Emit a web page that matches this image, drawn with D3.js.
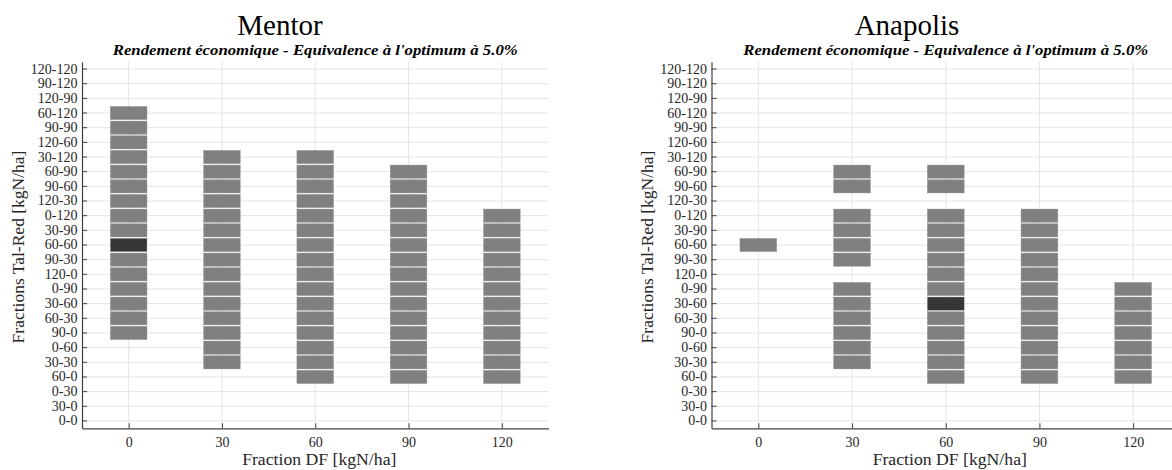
<!DOCTYPE html>
<html><head><meta charset="utf-8">
<script src="https://cdn.jsdelivr.net/npm/d3@7"></script>
<style>
body{margin:0;background:#fff}
svg{display:block}
text{font-family:"Liberation Serif","Times New Roman",serif}
</style>
</head><body><svg id="c" width="1172" height="470" font-family="Liberation Serif, Times New Roman, serif"></svg>
<script>
// Y categories (Tal-Red fractions), bottom to top
const categories = ["0-0","30-0","0-30","60-0","30-30","0-60","90-0","60-30","30-60","0-90","120-0","90-30","60-60","30-90","0-120","120-30","90-60","60-90","30-120","120-60","90-90","60-120","120-90","90-120","120-120"];
// X ticks (Fraction DF)
const dfTicks = [0,30,60,90,120];

// Cells that are equivalent to the optimum, per DF column (same order as dfTicks)
const mentorCells = [
  ["90-0","60-30","30-60","0-90","120-0","90-30","60-60","30-90","0-120","120-30","90-60","60-90","30-120","120-60","90-90","60-120"],
  ["30-30","0-60","90-0","60-30","30-60","0-90","120-0","90-30","60-60","30-90","0-120","120-30","90-60","60-90","30-120"],
  ["60-0","30-30","0-60","90-0","60-30","30-60","0-90","120-0","90-30","60-60","30-90","0-120","120-30","90-60","60-90","30-120"],
  ["60-0","30-30","0-60","90-0","60-30","30-60","0-90","120-0","90-30","60-60","30-90","0-120","120-30","90-60","60-90"],
  ["60-0","30-30","0-60","90-0","60-30","30-60","0-90","120-0","90-30","60-60","30-90","0-120"]
];
const anapolisCells = [
  ["60-60"],
  ["30-30","0-60","90-0","60-30","30-60","0-90","90-30","60-60","30-90","0-120","90-60","60-90"],
  ["60-0","30-30","0-60","90-0","60-30","30-60","0-90","120-0","90-30","60-60","30-90","0-120","90-60","60-90"],
  ["60-0","30-30","0-60","90-0","60-30","30-60","0-90","120-0","90-30","60-60","30-90","0-120"],
  ["60-0","30-30","0-60","90-0","60-30","30-60","0-90"]
];
// Optimum cell (dark)
const mentorOptimum = {df: 0, cat: "60-60"};
const anapolisOptimum = {df: 60, cat: "30-60"};

const titles = ["Mentor", "Anapolis"];
const subtitle = "Rendement économique - Equivalence à l'optimum à 5.0%";
const xLabel = "Fraction DF [kgN/ha]";
const yLabel = "Fractions Tal-Red [kgN/ha]";

const SERIF = '"Liberation Serif","Times New Roman",serif';
const svg = d3.select("#c");
const plotTop = 61.7, plotBottom = 428.3;
const cellHalf = 5.9;

function drawPanel(cfg) {
  const x = d3.scaleLinear().domain([-15, 135]).range([cfg.left, cfg.right]);
  const y = d3.scaleBand().domain(categories).range([plotBottom, plotTop]).padding(0);
  const g = svg.append("g");

  // grid
  g.append("g").selectAll("line").data(categories).join("line")
    .attr("x1", cfg.left).attr("x2", cfg.right)
    .attr("y1", d => y(d) + y.bandwidth()/2).attr("y2", d => y(d) + y.bandwidth()/2)
    .attr("stroke", "#e4e4e4").attr("stroke-width", 1);
  g.append("g").selectAll("line").data(dfTicks).join("line")
    .attr("x1", d => x(d)).attr("x2", d => x(d))
    .attr("y1", plotTop).attr("y2", plotBottom)
    .attr("stroke", "#e4e4e4").attr("stroke-width", 1);

  // cells
  const cells = [];
  cfg.cells.forEach((col, i) => col.forEach(cat => cells.push({df: dfTicks[i], cat})));
  g.append("g").selectAll("rect").data(cells).join("rect")
    .attr("x", d => x(d.df - cellHalf))
    .attr("width", d => x(d.df + cellHalf) - x(d.df - cellHalf))
    .attr("y", d => y(d.cat) + 0.7)
    .attr("height", y.bandwidth() - 1.4)
    .attr("fill", d => (d.df === cfg.opt.df && d.cat === cfg.opt.cat) ? "#363636" : "#808080")
    .attr("stroke", "#9a9a9a").attr("stroke-width", 0.4);

  // axes
  const yAxis = d3.axisLeft(y).tickSize(-5).tickSizeOuter(0).tickPadding(4.5);
  const ya = g.append("g").attr("transform", `translate(${cfg.left},0)`).call(yAxis);
  const xAxis = d3.axisBottom(x).tickValues(dfTicks).tickSize(-5).tickSizeOuter(0).tickPadding(0);
  const xa = g.append("g").attr("transform", `translate(0,${plotBottom})`).call(xAxis);
  [ya, xa].forEach(a => {
    a.attr("font-family", SERIF).attr("font-size", 14);
    a.select(".domain").attr("stroke", "#404040").attr("stroke-width", 1.2);
    a.selectAll(".tick line").attr("stroke", "#404040");
    a.selectAll(".tick text").attr("fill", "#262626")
      .style("font-size", "14px").style("font-family", SERIF);
  });
  xa.selectAll(".tick text").attr("y", 18.7).attr("dy", null);

  // titles
  g.append("text").attr("x", cfg.titleX).attr("y", 35).attr("text-anchor", "middle")
    .style("font-family", SERIF).style("font-size", "29px").attr("fill", "#000").text(cfg.title);
  g.append("text").attr("x", (cfg.left + cfg.right)/2).attr("y", 55).attr("text-anchor", "middle")
    .attr("textLength", 405).attr("lengthAdjust", "spacingAndGlyphs")
    .style("font-family", SERIF).style("font-size", "14px").style("font-weight", "bold").style("font-style", "italic")
    .attr("fill", "#000").text(subtitle);

  // axis labels
  g.append("text").attr("x", (cfg.left + cfg.right)/2 + 4).attr("y", 465).attr("text-anchor", "middle")
    .style("font-family", SERIF).style("font-size", "17.7px").attr("fill", "#262626").text(xLabel);
  g.append("text").attr("transform", `translate(${cfg.ylabX},247) rotate(-90)`).attr("text-anchor", "middle")
    .style("font-family", SERIF).style("font-size", "17.5px").attr("fill", "#262626").text(yLabel);
}

drawPanel({left: 82, right: 548.5, title: titles[0], titleX: 280, ylabX: 23.5, cells: mentorCells, opt: mentorOptimum});
drawPanel({left: 711.5, right: 1180, title: titles[1], titleX: 907, ylabX: 653, cells: anapolisCells, opt: anapolisOptimum});
</script>
</body></html>
